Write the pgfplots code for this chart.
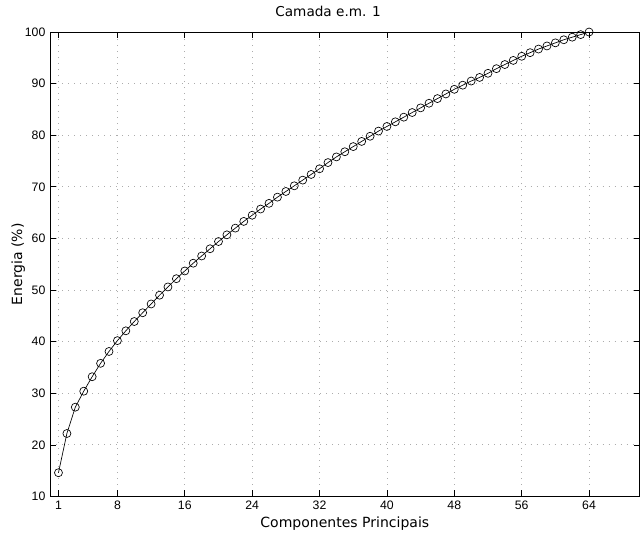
\documentclass[border=0pt]{standalone}
\usepackage{fontspec}
\setmainfont{DejaVu Sans}
\newfontfamily\tickfont{Liberation Sans}
\usepackage{pgfplots}
\pgfplotsset{compat=1.18}
\usetikzlibrary{calc}

\pgfplotstableread{
k  e
1  14.6
2  22.2
3  27.3
4  30.4
5  33.2
6  35.8
7  38.1
8  40.2
9  42.1
10 43.9
11 45.6
12 47.3
13 49.0
14 50.6
15 52.2
16 53.7
17 55.2
18 56.6
19 58.0
20 59.4
21 60.7
22 62.0
23 63.3
24 64.5
25 65.7
26 66.8
27 68.0
28 69.1
29 70.2
30 71.3
31 72.4
32 73.5
33 74.7
34 75.8
35 76.8
36 77.8
37 78.8
38 79.8
39 80.8
40 81.7
41 82.6
42 83.5
43 84.4
44 85.3
45 86.2
46 87.1
47 88.0
48 88.9
49 89.7
50 90.5
51 91.2
52 92.0
53 92.9
54 93.7
55 94.5
56 95.3
57 96.0
58 96.7
59 97.3
60 97.9
61 98.5
62 99.0
63 99.5
64 100.0
}\energia

\begin{document}
\begin{tikzpicture}
\begin{axis}[
  scale only axis,
  width=441.75pt, height=348pt,
  xmin=0, xmax=70, ymin=10, ymax=100,
  xtick={1,8,16,24,32,40,48,56,64},
  ytick={10,20,...,100},
  tick align=inside,
  major tick length=4.5pt,
  tick style={black, line width=0.5pt},
  axis line style={black, line width=0.6pt},
  grid=major,
  grid style={gray!65, line width=0.6pt, dash pattern=on 0.6pt off 3.9pt},
  ticklabel style={font=\tickfont\fontsize{9.2}{10}\selectfont},
  /pgf/number format/assume math mode=true,
  title={Camada e.m. 1},
  title style={font=\fontsize{10.2}{12}\selectfont, yshift=2pt, xshift=-12.5pt},
  xlabel={Componentes Principais},
  ylabel={Energia (\%)},
  label style={font=\fontsize{10.5}{12}\selectfont},
  xlabel style={yshift=2pt},
  ylabel style={yshift=-7pt},
]
\addplot[black, line width=0.5pt, mark=o, mark size=3pt,
  mark options={line width=0.5pt}] table[x=k, y=e] {\energia};
\end{axis}
\pgfresetboundingbox
\path[use as bounding box] ($(current axis.south west)+(-37.5pt,-29.25pt)$)
  rectangle ($(current axis.north east)+(0.3pt,24pt)$);
\end{tikzpicture}
\end{document}
